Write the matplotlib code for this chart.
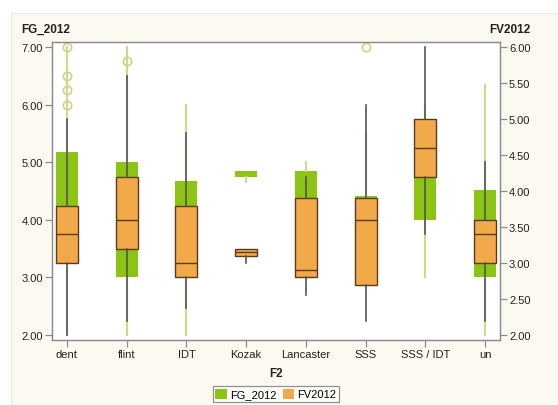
import matplotlib
matplotlib.use('Agg')
import matplotlib.pyplot as plt
from matplotlib.patches import Rectangle, Patch

plt.rcParams['font.family'] = ['Liberation Sans', 'DejaVu Sans']

# 类别
categories = ['dent', 'flint', 'IDT', 'Kozak', 'Lancaster', 'SSS', 'SSS / IDT', 'un']

# FG_2012（左轴，绿色）的箱线统计量
fg_whislo = [2.00, 2.00, 2.00, 4.66, 3.00, 3.00, 3.00, 2.00]
fg_q1 = [3.50, 3.00, 3.25, 4.74, 3.50, 3.50, 4.00, 3.00]
fg_med = [4.50, 4.00, 4.00, 4.79, 4.20, 4.00, 4.50, 3.75]
fg_q3 = [5.17, 5.00, 4.67, 4.84, 4.84, 4.42, 5.00, 4.51]
fg_whishi = [7.00, 7.00, 6.00, 4.84, 5.00, 5.50, 6.00, 6.34]
fg_fliers = [[7.00, 6.50, 6.25, 6.00], [6.75], [], [], [], [7.00], [], []]

# FV2012（右轴，橙色）的箱线统计量
fv_whislo = [2.00, 2.20, 2.38, 3.00, 2.55, 2.20, 3.40, 2.20]
fv_q1 = [3.00, 3.19, 2.80, 3.10, 2.80, 2.69, 4.19, 3.00]
fv_med = [3.40, 3.60, 3.00, 3.15, 2.90, 3.60, 4.60, 3.40]
fv_q3 = [3.79, 4.19, 3.79, 3.19, 3.90, 3.90, 5.00, 3.60]
fv_whishi = [5.00, 5.60, 4.80, 3.19, 4.20, 5.20, 6.00, 4.40]

left_ticks = [2, 3, 4, 5, 6, 7]
right_ticks = [2.0, 2.5, 3.0, 3.5, 4.0, 4.5, 5.0, 5.5, 6.0]

green = '#8cc414'
green_light = '#c9dc86'
orange = '#f2a94a'
edge = '#5b3b1c'
grey_line = '#555555'
flier_col = '#d8cc8c'
spine_col = '#8c8c8c'


def make_stats(lo, q1, med, q3, hi, fl=None):
    stats = []
    for i in range(len(lo)):
        stats.append({'whislo': lo[i], 'q1': q1[i], 'med': med[i], 'q3': q3[i],
                      'whishi': hi[i], 'fliers': fl[i] if fl else []})
    return stats


fig = plt.figure(figsize=(5.58, 4.06), dpi=100)
fig.patch.set_facecolor('white')
# 奶油色面板背景
fig.patches.append(Rectangle((11 / 558, -0.1), 1.2, 1 - 14 / 406 + 0.1, transform=fig.transFigure,
                             facecolor='#fcf9f1', edgecolor='#ecebe6', linewidth=0.8, zorder=-10))

ax = fig.add_axes([52 / 558, 1 - 341 / 406, 448 / 558, 298 / 406])
ax2 = ax.twinx()
pos = list(range(len(categories)))

ax.bxp(make_stats(fg_whislo, fg_q1, fg_med, fg_q3, fg_whishi, fg_fliers), positions=pos,
       widths=0.37, patch_artist=True, showcaps=False,
       boxprops=dict(facecolor=green, edgecolor=green, linewidth=0),
       medianprops=dict(color=green, linewidth=0),
       whiskerprops=dict(color=green_light, linewidth=1.5),
       flierprops=dict(marker='o', markerfacecolor='none', markeredgecolor=flier_col,
                       markersize=6, markeredgewidth=1.2))

ax2.bxp(make_stats(fv_whislo, fv_q1, fv_med, fv_q3, fv_whishi), positions=pos,
        widths=0.37, patch_artist=True, showcaps=False, showfliers=False,
        boxprops=dict(facecolor=orange, edgecolor=edge, linewidth=1.0),
        medianprops=dict(color=edge, linewidth=1.0),
        whiskerprops=dict(color=grey_line, linewidth=1.2))

ax.set_xlim(-0.25, len(categories) - 0.75)
ax.set_ylim(1.915, 7.085)
ax2.set_ylim(1.931, 6.069)
ax.set_xticks(pos)
ax.set_xticklabels(categories)
ax.set_yticks(left_ticks)
ax.set_yticklabels(['%.2f' % v for v in left_ticks])
ax2.set_yticks(right_ticks)
ax2.set_yticklabels(['%.2f' % v for v in right_ticks])

for a in (ax, ax2):
    for s in a.spines.values():
        s.set_color(spine_col)
        s.set_linewidth(0.9)
    a.tick_params(colors=spine_col, labelcolor='#222222', labelsize=8, length=5, width=0.9, pad=1.5)
ax.set_facecolor('white')

fig.text(21 / 558, 1 - 30 / 406, 'FG_2012', fontsize=8.5, fontweight='bold', color='#222222', va='center')
fig.text(531 / 558, 1 - 30 / 406, 'FV2012', fontsize=8.5, fontweight='bold', color='#222222',
         va='center', ha='right')
fig.text(276 / 558, 1 - 374 / 406, 'F2', fontsize=8.5, fontweight='bold', color='#222222',
         va='center', ha='center')

handles = [Patch(facecolor=green, edgecolor='none', label='FG_2012'),
           Patch(facecolor=orange, edgecolor='none', label='FV2012')]
leg = fig.legend(handles=handles, loc='center', bbox_to_anchor=(276 / 558, 1 - 395 / 406), ncol=2,
                 fontsize=8, frameon=True, fancybox=False, handlelength=1.0, handleheight=1.0,
                 handletextpad=0.3, columnspacing=0.6, borderpad=0.25, borderaxespad=0)
leg.get_frame().set_edgecolor('#777777')
leg.get_frame().set_linewidth(0.9)
leg.get_frame().set_facecolor('white')

fig.savefig('out.png', dpi=100)
